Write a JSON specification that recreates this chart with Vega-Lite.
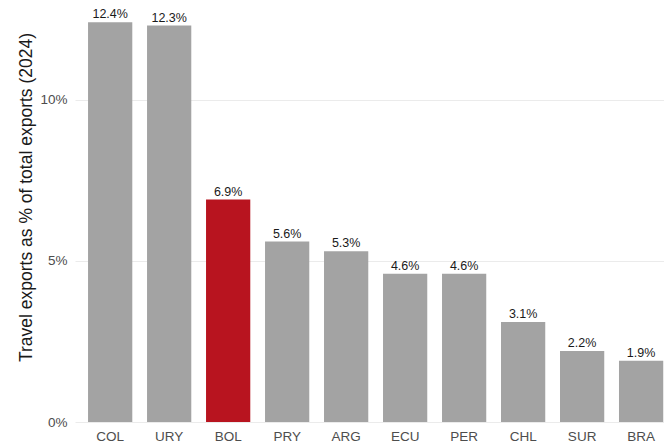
{
  "$schema": "https://vega.github.io/schema/vega-lite/v6.json",
  "autosize": "none",
  "padding": {"left": 75, "top": 3, "right": 0, "bottom": 21},
  "width": 589,
  "height": 419,
  "background": "white",
  "config": {
    "view": {"stroke": null},
    "font": "Liberation Sans"
  },
  "data": {
    "values": [
      {"country": "COL", "share": 0.124},
      {"country": "URY", "share": 0.123},
      {"country": "BOL", "share": 0.069},
      {"country": "PRY", "share": 0.056},
      {"country": "ARG", "share": 0.053},
      {"country": "ECU", "share": 0.046},
      {"country": "PER", "share": 0.046},
      {"country": "CHL", "share": 0.031},
      {"country": "SUR", "share": 0.022},
      {"country": "BRA", "share": 0.019}
    ]
  },
  "encoding": {
    "x": {
      "field": "country",
      "type": "nominal",
      "sort": null,
      "scale": {"paddingInner": 0.25, "paddingOuter": 0.117, "align": 0.945},
      "axis": {
        "title": null,
        "domain": false,
        "ticks": false,
        "labelAngle": 0,
        "labelFontSize": 13.5,
        "labelColor": "#4d4d4d",
        "labelPadding": 7,
        "grid": false
      }
    },
    "y": {
      "field": "share",
      "type": "quantitative",
      "scale": {"domain": [0, 0.13], "nice": false, "zero": true},
      "axis": {
        "title": "Travel exports as % of total exports (2024)",
        "titleFontSize": 17.5,
        "titleFontWeight": "normal",
        "titleColor": "#1a1a1a",
        "titleAngle": -90,
        "titleX": -49,
        "titleY": 194,
        "titleAlign": "center",
        "titleBaseline": "middle",
        "values": [0, 0.05, 0.1],
        "format": ".0%",
        "domain": false,
        "ticks": false,
        "labelFontSize": 13.5,
        "labelColor": "#4d4d4d",
        "labelPadding": 8,
        "grid": true,
        "gridColor": "#ebebeb",
        "gridWidth": 1.1
      }
    }
  },
  "layer": [
    {
      "mark": {"type": "bar"},
      "encoding": {
        "color": {
          "condition": {"test": "datum.country === 'BOL'", "value": "#b8141f"},
          "value": "#a3a3a3"
        }
      }
    },
    {
      "mark": {"type": "text", "dy": -8, "fontSize": 12.5, "color": "#1a1a1a"},
      "encoding": {
        "text": {"field": "share", "type": "quantitative", "format": ".1%"}
      }
    }
  ]
}
